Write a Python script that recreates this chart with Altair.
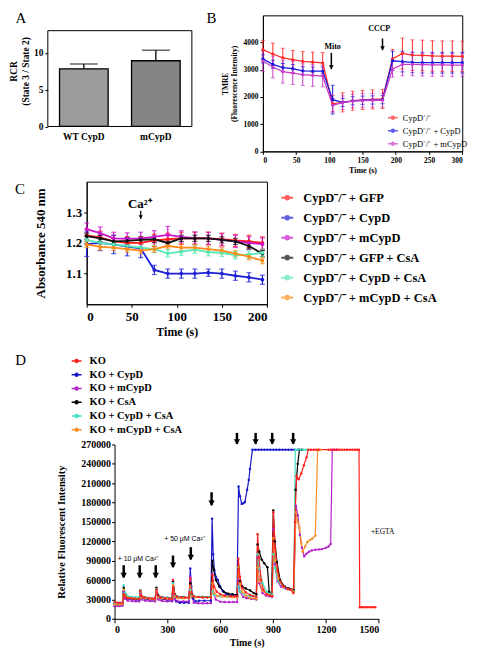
import math
import altair as alt
import pandas as pd

SERIF = "Liberation Serif"
SANS = "Liberation Sans"
SYM = "M-1,0L1,0M-0.3,0A0.3,0.3,0,1,1,0.3,0A0.3,0.3,0,1,1,-0.3,0Z"
SX, SY = 0.958, 0.962   # the reference figure is drawn slightly smaller to fit inside the page margin

# ---------------- Panel A ----------------
a_groups = ["WT CypD", "mCypD"]
a_rcr = [7.83, 8.92]
a_rcr_err = [0.65, 1.43]
a_fills = ["#9c9c9c", "#858585"]
a_axis_top = 13

# ---------------- Panel B ----------------
b_time = [0, 15, 30, 45, 60, 75, 90, 105, 120, 135, 150, 165, 180,
          195, 210, 225, 240, 255, 270, 285, 300]
b_series = ["CypD⁻/⁻", "CypD⁻/⁻ + CypD", "CypD⁻/⁻ + mCypD"]
b_colors = ["#ff2a2a", "#1a1ae0", "#c83cc8"]
b_ko = [3740, 3580, 3440, 3370, 3310, 3280, 3250, 1750, 1800, 1860, 1890, 1910, 1930,
        3400, 3600, 3540, 3530, 3510, 3500, 3500, 3490]
b_ko_err = [340, 400, 350, 340, 360, 370, 380, 300, 350, 350, 350, 350, 350,
            350, 570, 560, 560, 560, 560, 560, 560]
b_cypd = [3400, 3200, 3080, 3040, 2960, 2950, 2950, 1900, 1800, 1860, 1880, 1890, 1900,
          3330, 3300, 3270, 3260, 3260, 3260, 3260, 3260]
b_cypd_err = [150, 150, 150, 150, 150, 150, 150, 530, 150, 150, 150, 150, 150,
              350, 380, 380, 380, 380, 380, 380, 380]
b_mcypd = [3320, 3100, 2930, 2880, 2820, 2790, 2770, 1700, 1790, 1850, 1870, 1880, 1880,
           3030, 3200, 3200, 3190, 3180, 3180, 3170, 3170]
b_mcypd_err = [370, 400, 420, 420, 400, 400, 400, 250, 250, 250, 250, 250, 250,
               300, 420, 420, 420, 420, 420, 420, 420]
b_note_text = ["Mito", "CCCP"]
b_note_time = [105, 175]
b_note_value = [3840, 4490]
b_arrow_time = [103, 180]
b_arrow_top = [3620, 4150]
b_arrow_tip = [3020, 3720]

# ---------------- Panel C ----------------
c_time = [0, 15, 30, 45, 60, 75, 90, 105, 120, 135, 150, 165, 180, 195]
c_series = ["CypD⁻/⁻ + GFP", "CypD⁻/⁻ + CypD", "CypD⁻/⁻ + mCypD",
            "CypD⁻/⁻ + GFP + CsA", "CypD⁻/⁻ + CypD + CsA", "CypD⁻/⁻ + mCypD + CsA"]
c_colors = ["#ff1a1a", "#2020d8", "#cc14cc", "#111111", "#55e8b4", "#ff8c1a"]
c_gfp = [1.225, 1.218, 1.205, 1.200, 1.200, 1.208, 1.212, 1.215, 1.215, 1.215, 1.212, 1.208, 1.205, 1.200]
c_gfp_err = [0.02] * 14
c_cypd = [1.196, 1.200, 1.195, 1.188, 1.182, 1.112, 1.100, 1.100, 1.100, 1.103, 1.100, 1.093, 1.088, 1.080]
c_cypd_err = [0.04, 0.025, 0.03, 0.03, 0.03, 0.015, 0.015, 0.015, 0.015, 0.012, 0.015, 0.015, 0.015, 0.015]
c_mcypd = [1.245, 1.232, 1.215, 1.213, 1.215, 1.220, 1.226, 1.220, 1.216, 1.215, 1.210, 1.205, 1.200, 1.196]
c_mcypd_err = [0.02, 0.02, 0.02, 0.02, 0.02, 0.02, 0.028, 0.02, 0.02, 0.02, 0.02, 0.02, 0.02, 0.02]
c_gfp_csa = [1.222, 1.215, 1.205, 1.207, 1.210, 1.212, 1.200, 1.215, 1.215, 1.215, 1.210, 1.205, 1.190, 1.165]
c_gfp_csa_err = [0.01] * 14
c_cypd_csa = [1.210, 1.200, 1.195, 1.190, 1.185, 1.180, 1.166, 1.172, 1.178, 1.170, 1.168, 1.160, 1.162, 1.168]
c_cypd_csa_err = [0.012] * 14
c_mcypd_csa = [1.195, 1.187, 1.185, 1.180, 1.175, 1.180, 1.190, 1.185, 1.185, 1.180, 1.175, 1.165, 1.155, 1.142]
c_mcypd_csa_err = [0.01] * 14
c_note_text = ["Ca²⁺"]
c_note_time = [59]
c_note_value = [1.328]
c_arrow_time = [60]
c_arrow_top = [1.305]
c_arrow_tip = [1.278]

# ---------------- Panel D ----------------
d_series = ["KO", "KO + CypD", "KO + mCypD", "KO + CsA", "KO + CypD + CsA", "KO + mCypD + CsA"]
d_colors = ["#ff2020", "#1818c8", "#b424c8", "#000000", "#40e0c0", "#f5902a"]
d_ko = [(0, 26000), (15, 25000), (30, 25000), (45, 25000), (52, 38000), (60, 34000), (75, 32000), (95, 31500),
        (115, 31000), (140, 31000), (146, 43000), (155, 35000), (170, 33000), (195, 32000), (215, 31500),
        (230, 31000), (238, 45000), (248, 35000), (265, 33000), (290, 32000), (310, 31500), (327, 31000),
        (332, 60000), (340, 38000), (355, 34000), (380, 33000), (400, 33000), (422, 33000), (430, 62000),
        (438, 40000), (450, 35000), (475, 34000), (500, 33000), (525, 33000), (547, 33000), (556, 67000),
        (565, 50000), (580, 42000), (600, 38000), (625, 36000), (660, 35000), (680, 35000), (696, 35000),
        (703, 93000), (712, 65000), (725, 48000), (745, 41000), (770, 37000), (790, 35000), (805, 34000),
        (812, 131000), (820, 95000), (832, 60000), (845, 45000), (865, 38000), (880, 36000), (895, 35500),
        (902, 165000), (912, 110000), (925, 75000), (940, 58000), (960, 50000), (985, 46000), (1000, 45000),
        (1015, 40000), (1024, 150000), (1033, 221000), (1045, 216000), (1060, 225000), (1075, 238000),
        (1090, 250000), (1100, 262000), (1115, 262000), (1130, 262000), (1145, 262000), (1160, 262000),
        (1215, 262000), (1230, 262000), (1245, 262000), (1260, 262000), (1275, 262000), (1290, 262000),
        (1305, 262000), (1320, 262000), (1335, 262000), (1350, 262000), (1365, 262000), (1378, 262000),
        (1388, 262000), (1392, 18000), (1405, 18000), (1420, 18000), (1435, 18000), (1450, 18000),
        (1465, 18000), (1480, 18000)]
d_cypd = [(0, 20000), (15, 20500), (30, 21000), (45, 21000), (52, 42000), (60, 34000), (75, 31000), (100, 30000),
          (120, 29500), (140, 29000), (146, 42000), (155, 33000), (175, 30000), (200, 29500), (230, 29000),
          (238, 45000), (248, 33000), (270, 30000), (300, 29500), (327, 29000), (332, 58000), (340, 34000),
          (350, 27000), (370, 25000), (395, 25000), (422, 25000), (430, 78000), (436, 50000), (445, 32000),
          (460, 27000), (480, 28000), (510, 28000), (547, 28000), (554, 155000), (560, 100000), (567, 75000),
          (576, 65000), (586, 60000), (600, 50000), (615, 43000), (635, 38000), (660, 36000), (680, 36000),
          (695, 36000), (704, 205000), (712, 190000), (722, 178000), (731, 179000), (740, 181000),
          (753, 200000), (762, 215000), (769, 232000), (783, 262000), (800, 262000), (817, 262000),
          (834, 262000), (851, 262000), (868, 262000), (885, 262000), (902, 262000), (919, 262000),
          (936, 262000), (953, 262000), (970, 262000), (987, 262000), (1004, 262000), (1021, 262000),
          (1040, 262000)]
d_mcypd = [(0, 20000), (15, 20000), (30, 20000), (45, 20500), (52, 42000), (60, 31000), (75, 28000), (100, 27500),
           (120, 27000), (140, 27000), (146, 40000), (155, 30000), (175, 28000), (200, 27500), (230, 27000),
           (238, 43000), (248, 30000), (270, 27500), (300, 27000), (327, 27000), (332, 55000), (342, 30000),
           (360, 27000), (390, 27000), (422, 27000), (430, 65000), (437, 35000), (450, 25000), (475, 24000),
           (500, 24000), (525, 24000), (547, 24500), (555, 70000), (563, 40000), (575, 30000), (600, 26500),
           (625, 26000), (650, 26000), (675, 26000), (696, 26000), (703, 60000), (712, 42000), (730, 34000),
           (750, 32000), (775, 31000), (805, 30000), (812, 95000), (822, 55000), (840, 40000), (860, 36000),
           (880, 35000), (895, 34000), (901, 138000), (910, 85000), (925, 58000), (945, 50000), (970, 47000),
           (1000, 45000), (1018, 42000), (1030, 175000), (1041, 160000), (1052, 130000), (1064, 110000),
           (1077, 97000), (1090, 101000), (1104, 104000), (1120, 106000), (1140, 107000), (1160, 107500),
           (1177, 108000), (1200, 110000), (1215, 112000), (1227, 116000), (1236, 262000), (1250, 262000),
           (1262, 262000)]
d_csa = [(0, 24000), (15, 24000), (30, 24000), (45, 24500), (52, 48000), (60, 38000), (75, 34000), (100, 32000),
         (120, 31500), (140, 31000), (146, 44000), (155, 35000), (175, 33000), (200, 32000), (230, 31000),
         (238, 48000), (248, 36000), (270, 33500), (300, 32500), (327, 32000), (332, 58000), (342, 38000),
         (360, 34000), (390, 33500), (422, 33000), (430, 55000), (438, 38000), (460, 34000), (500, 34000),
         (547, 34000), (555, 90000), (563, 76000), (575, 60000), (595, 50000), (620, 42000), (645, 39000),
         (670, 38000), (696, 37000), (703, 80000), (712, 58000), (725, 50000), (745, 47000), (770, 44000),
         (790, 40000), (805, 38000), (812, 115000), (822, 104000), (835, 92000), (850, 86000), (868, 80000),
         (878, 42000), (892, 38000), (901, 168000), (910, 120000), (922, 88000), (940, 60000), (965, 50000),
         (990, 47000), (1005, 46000), (1018, 44000), (1028, 200000), (1040, 240000), (1050, 262000),
         (1065, 262000)]
d_cypd_csa = [(0, 24000), (15, 24000), (30, 24000), (45, 24500), (52, 52000), (60, 40000), (75, 35000),
              (100, 34000), (120, 33500), (140, 33000), (146, 44000), (155, 35000), (175, 33000), (200, 32000),
              (230, 31000), (238, 46000), (248, 35000), (270, 33000), (300, 32500), (327, 32000), (332, 55000),
              (342, 36000), (360, 33000), (390, 33000), (422, 33000), (430, 45000), (438, 36000), (460, 34000),
              (500, 34000), (547, 34000), (556, 42000), (565, 37000), (600, 35000), (640, 34500), (670, 34000),
              (696, 34000), (703, 50000), (712, 42000), (740, 37000), (770, 35000), (805, 34000), (812, 100000),
              (822, 78000), (840, 55000), (865, 42000), (880, 39000), (895, 38000), (901, 100000), (912, 78000),
              (930, 58000), (960, 48000), (985, 46000), (1005, 45000), (1018, 42000), (1026, 262000),
              (1040, 262000), (1055, 262000), (1070, 262000), (1085, 262000), (1100, 262000)]
d_mcypd_csa = [(0, 22000), (15, 22000), (30, 22000), (45, 22500), (52, 45000), (60, 36000), (75, 33000),
               (100, 32000), (120, 31500), (140, 31000), (146, 42000), (155, 33000), (175, 31500), (200, 31000),
               (230, 30000), (238, 44000), (248, 33000), (270, 31500), (300, 31000), (327, 31000), (332, 52000),
               (342, 34000), (360, 32000), (390, 32000), (422, 32000), (430, 50000), (438, 35000), (460, 33000),
               (500, 33000), (547, 33000), (556, 55000), (565, 40000), (585, 35000), (610, 34500), (640, 34000),
               (670, 33500), (696, 33000), (703, 80000), (712, 55000), (725, 42000), (745, 36000), (770, 32000),
               (805, 31000), (812, 80000), (822, 58000), (840, 44000), (865, 38000), (880, 37000), (895, 36000),
               (901, 125000), (912, 90000), (930, 62000), (960, 49000), (985, 46000), (1005, 45000),
               (1018, 42000), (1030, 165000), (1040, 150000), (1050, 141000), (1060, 118000), (1068, 104000),
               (1082, 112000), (1095, 119000), (1110, 122000), (1122, 124000), (1140, 129000), (1153, 262000),
               (1170, 262000)]
d_note_text = ["+ 10 μM Ca²⁺", "+ 50 μM Ca²⁺", "+EGTA"]
d_note_time = [133, 397, 1522]
d_note_value = [93000, 123500, 134500]
d_note_font = [SANS, SANS, SERIF]
d_arrow_time = [52, 143, 234, 332, 433, 551, 695, 801, 895, 1014]
d_arrow_top = [83000, 83000, 83000, 98000, 111000, 196000, 288000, 288000, 288000, 288000]
d_arrow_tip = [64000, 64000, 64000, 80000, 92000, 176000, 271000, 271000, 271000, 271000]

# ---------------- layout of the reference figure (pixels of the 477x664 picture) ----------------
A_BOX = (37, 5, 188, 121)     # A's axis box is 37..188 x 21..121; top 16 px left blank to line up with B
A_FRAME_TOP_Y = 21
B_BOX = (262, 5, 471, 147)
C_BOX = (77, 179, 266, 307)
D_BOX = (106, 451, 383, 633)


def rx(X, box):
    return (X - box[0]) * SX


def ry(Y, box):
    return (Y - box[1]) * SY


def wh(box):
    return (box[2] - box[0]) * SX, (box[3] - box[1]) * SY


DUMMY = pd.DataFrame({"k": [0]})


def letter(ch, X, Y, box):
    return alt.Chart(DUMMY).mark_text(
        text=ch, font=SERIF, fontSize=15, align="left", baseline="alphabetic", color="black"
    ).encode(x=alt.value(rx(X, box)), y=alt.value(ry(Y, box)))


def anchor(X, Y, box):
    # invisible point that pins the vertical extent of a row
    return alt.Chart(DUMMY).mark_point(size=1, opacity=0).encode(
        x=alt.value(rx(X, box)), y=alt.value(ry(Y, box)))


def spacer(w):
    return alt.Chart(DUMMY).mark_point(size=1, opacity=0).encode(
        x=alt.value(0), y=alt.value(0)
    ).properties(width=w, height=1, view=alt.ViewBackground(stroke="transparent"))


def legend(sym_left, first_center, step, offset, fs, weight, box, ssize, sw):
    return alt.Legend(orient="none", legendX=rx(sym_left, box), legendY=ry(first_center, box) - fs / 2,
                      title=None, labelFont=SERIF, labelFontSize=fs, labelFontWeight=weight,
                      symbolType=SYM, symbolSize=ssize, symbolStrokeWidth=sw,
                      rowPadding=step * SY - fs, labelOffset=offset, padding=0)


def series_frame(times, names, values, errors):
    rows = []
    for name, vals, errs in zip(names, values, errors):
        for t, v, e in zip(times, vals, errs):
            rows.append({"time": t, "value": v, "lo": v - e, "hi": v + e, "series": name})
    return pd.DataFrame(rows)


def arrows(times, tops, tips, xs, ys, axx, axy, width, tri):
    df = pd.DataFrame({"time": times, "top": tops, "tip": tips})
    shaft = alt.Chart(df).mark_rule(color="black", strokeWidth=width).encode(
        x=alt.X("time:Q", scale=xs, axis=axx),
        y=alt.Y("top:Q", scale=ys, axis=axy), y2="tip:Q")
    head = alt.Chart(df).mark_point(shape="triangle-down", filled=True, color="black",
                                    opacity=1, size=tri, yOffset=-2).encode(
        x=alt.X("time:Q", scale=xs, axis=axx),
        y=alt.Y("tip:Q", scale=ys, axis=axy))
    return [shaft, head]


# ================= Panel A =================
A_W, A_H = wh(A_BOX)
a_domain_top = a_axis_top * (A_BOX[3] - A_BOX[1]) / (A_BOX[3] - A_FRAME_TOP_Y)
dfA = pd.DataFrame({"group": a_groups, "rcr": a_rcr,
                    "hi": [v + e for v, e in zip(a_rcr, a_rcr_err)]})
xsA = alt.Scale(domain=a_groups, paddingInner=0.325, paddingOuter=0.1625)
ysA = alt.Scale(domain=[0, a_domain_top], nice=False)
axA_x = alt.Axis(title=None, labelAngle=0, ticks=False, domain=False, labelFontSize=9.5, labelPadding=5)
axA_y = alt.Axis(values=[0, 5, 10], title=["RCR", "(State 3 / State 2)"], titleFontSize=9.5, domain=False,
                 labelFontSize=9.5, tickSize=3, titlePadding=3)
barsA = alt.Chart(dfA).mark_bar(stroke="black", strokeWidth=1.3).encode(
    x=alt.X("group:N", scale=xsA, axis=axA_x, sort=a_groups),
    y=alt.Y("rcr:Q", scale=ysA, axis=axA_y),
    fill=alt.Fill("group:N", scale=alt.Scale(domain=a_groups, range=a_fills), legend=None))
errA = alt.Chart(dfA).mark_rule(color="black", strokeWidth=1.3).encode(
    x=alt.X("group:N", scale=xsA, axis=axA_x, sort=a_groups),
    y=alt.Y("rcr:Q", scale=ysA, axis=axA_y), y2="hi:Q")
capA = alt.Chart(dfA).mark_tick(color="black", orient="horizontal", size=28, thickness=1.3).encode(
    x=alt.X("group:N", scale=xsA, axis=axA_x, sort=a_groups),
    y=alt.Y("hi:Q", scale=ysA, axis=axA_y))
frameA = alt.Chart(DUMMY).mark_rect(fill="transparent", stroke="black", strokeWidth=1).encode(
    x=alt.value(0), x2=alt.value(A_W), y=alt.YDatum(a_axis_top), y2=alt.Y2Datum(0))
chartA = alt.layer(errA, capA, barsA, frameA, letter("A", 3, 13, A_BOX)).properties(
    width=A_W, height=A_H, view=alt.ViewBackground(stroke="transparent"))


# ================= line panels (B, C) =================
def line_panel(df, names, colors, xs, ys, axx, axy, leg, lw, psize, cap, capw):
    col = alt.Color("series:N", scale=alt.Scale(domain=names, range=colors), legend=leg)
    X = alt.X("time:Q", scale=xs, axis=axx)
    err = alt.Chart(df).mark_rule(strokeWidth=capw).encode(
        x=X, y=alt.Y("lo:Q", scale=ys, axis=axy), y2="hi:Q", color=col)
    lo = alt.Chart(df).mark_tick(orient="horizontal", size=cap, thickness=capw).encode(
        x=X, y=alt.Y("lo:Q", scale=ys, axis=axy), color=col)
    hi = alt.Chart(df).mark_tick(orient="horizontal", size=cap, thickness=capw).encode(
        x=X, y=alt.Y("hi:Q", scale=ys, axis=axy), color=col)
    line = alt.Chart(df).mark_line(strokeWidth=lw).encode(
        x=X, y=alt.Y("value:Q", scale=ys, axis=axy), color=col)
    pts = alt.Chart(df).mark_circle(size=psize, opacity=1).encode(
        x=X, y=alt.Y("value:Q", scale=ys, axis=axy), color=col)
    return [err, lo, hi, line, pts]


B_W, B_H = wh(B_BOX)
dfB = series_frame(b_time, b_series, [b_ko, b_cypd, b_mcypd], [b_ko_err, b_cypd_err, b_mcypd_err])
xsB = alt.Scale(domain=[0, 300], nice=False)
ysB = alt.Scale(domain=[0, 5000], nice=False)
axB_x = alt.Axis(values=[0, 50, 100, 150, 200, 250, 300], title="Time (s)", labelFontSize=7.5,
                 titleFontSize=8, tickSize=3, labelPadding=2, titlePadding=3)
axB_y = alt.Axis(values=[0, 1000, 2000, 3000, 4000], format="d", title=["TMRE", "(Fluorescence Intensity)"],
                 labelFontSize=7.5, titleFontSize=7.5, tickSize=3, labelPadding=2, titlePadding=4)
legB = legend(392, 110, 11, 4, 8.5, "normal", B_BOX, 100, 1.5)
dfBn = pd.DataFrame({"time": b_note_time, "value": b_note_value, "label": b_note_text})
noteB = alt.Chart(dfBn).mark_text(font=SERIF, fontSize=8, fontWeight="bold", color="black").encode(
    x=alt.X("time:Q", scale=xsB, axis=axB_x), y=alt.Y("value:Q", scale=ysB, axis=axB_y), text="label:N")
chartB = alt.layer(
    *line_panel(dfB, b_series, b_colors, xsB, ysB, axB_x, axB_y, legB, 1.3, 10, 4, 1),
    *arrows(b_arrow_time, b_arrow_top, b_arrow_tip, xsB, ysB, axB_x, axB_y, 1.5, 22),
    noteB, letter("B", 203, 13, B_BOX),
    anchor(262, 0, B_BOX), anchor(262, 173, B_BOX)
).properties(width=B_W, height=B_H, view=alt.ViewBackground(stroke="black", strokeWidth=1))

C_W, C_H = wh(C_BOX)
dfC = series_frame(c_time, c_series,
                   [c_gfp, c_cypd, c_mcypd, c_gfp_csa, c_cypd_csa, c_mcypd_csa],
                   [c_gfp_err, c_cypd_err, c_mcypd_err, c_gfp_csa_err, c_cypd_csa_err, c_mcypd_csa_err])
xsC = alt.Scale(domain=[0, 200], nice=False)
ysC = alt.Scale(domain=[1.0, 1.4], nice=False)
axC_x = alt.Axis(values=[0, 50, 100, 150, 200], title="Time (s)", labelFontSize=13, titleFontSize=12,
                 tickSize=3, labelPadding=3, titlePadding=3)
axC_y = alt.Axis(values=[1.1, 1.2, 1.3], format=".1f", title="Absorbance 540 nm", labelFontSize=13,
                 titleFontSize=13, tickSize=3, labelPadding=2, titlePadding=18)
legC = legend(280, 195, 19.3, 9, 12.5, "bold", C_BOX, 144, 2)
dfCn = pd.DataFrame({"time": c_note_time, "value": c_note_value, "label": c_note_text})
noteC = alt.Chart(dfCn).mark_text(font=SERIF, fontSize=13, fontWeight="bold", color="black").encode(
    x=alt.X("time:Q", scale=xsC, axis=axC_x), y=alt.Y("value:Q", scale=ysC, axis=axC_y), text="label:N")
chartC = alt.layer(
    *line_panel(dfC, c_series, c_colors, xsC, ysC, axC_x, axC_y, legC, 1.8, 14, 5, 1.2),
    *arrows(c_arrow_time, c_arrow_top, c_arrow_tip, xsC, ysC, axC_x, axC_y, 1.2, 18),
    noteC, letter("C", 2, 192, C_BOX),
    anchor(77, 176, C_BOX), anchor(77, 348.5, C_BOX)
).properties(width=C_W, height=C_H, view=alt.ViewBackground(stroke="black", strokeWidth=1))

# ================= Panel D =================
D_W, D_H = wh(D_BOX)
d_draw_order = [1, 2, 3, 4, 5, 0]
d_all = [d_ko, d_cypd, d_mcypd, d_csa, d_cypd_csa, d_mcypd_csa]
rowsD = []
for i in d_draw_order:
    for t, v in d_all[i]:
        rowsD.append({"time": t, "value": v, "series": d_series[i]})
dfD = pd.DataFrame(rowsD)
xsD = alt.Scale(domain=[0, 1500], nice=False)
ysD = alt.Scale(domain=[0, 270000], nice=False)
axD_x = alt.Axis(values=[0, 300, 600, 900, 1200, 1500], format="d", title="Time (s)", labelFontSize=10,
                 titleFontSize=10, tickSize=4, labelPadding=2, titlePadding=3)
axD_y = alt.Axis(values=list(range(0, 270001, 30000)), format="d", title="Relative Fluorescent Intensity",
                 labelFontSize=10, titleFontSize=10.5, tickSize=3, labelPadding=1, titlePadding=14)
legD = legend(60, 363, 12.8, 7, 10.5, "bold", D_BOX, 100, 1.5)
colD = alt.Color("series:N", scale=alt.Scale(domain=d_series, range=d_colors), legend=legD)
lineD = alt.Chart(dfD).mark_line(strokeWidth=1.2).encode(
    x=alt.X("time:Q", scale=xsD, axis=axD_x), y=alt.Y("value:Q", scale=ysD, axis=axD_y), color=colD)
ptsD = alt.Chart(dfD).mark_circle(size=6, opacity=1).encode(
    x=alt.X("time:Q", scale=xsD, axis=axD_x), y=alt.Y("value:Q", scale=ysD, axis=axD_y), color=colD)
dfDn = pd.DataFrame({"time": d_note_time, "value": d_note_value, "label": d_note_text, "font": d_note_font})
noteD1 = alt.Chart(dfDn[dfDn["font"] == SANS]).mark_text(font=SANS, fontSize=7, color="black").encode(
    x=alt.X("time:Q", scale=xsD, axis=axD_x), y=alt.Y("value:Q", scale=ysD, axis=axD_y), text="label:N")
noteD2 = alt.Chart(dfDn[dfDn["font"] == SERIF]).mark_text(font=SERIF, fontSize=7.5, color="black").encode(
    x=alt.X("time:Q", scale=xsD, axis=axD_x), y=alt.Y("value:Q", scale=ysD, axis=axD_y), text="label:N")
chartD = alt.layer(
    lineD, ptsD,
    *arrows(d_arrow_time, d_arrow_top, d_arrow_tip, xsD, ysD, axD_x, axD_y, 2.5, 40),
    noteD1, noteD2, letter("D", 2, 368, D_BOX),
    anchor(106, 350, D_BOX)
).properties(width=D_W, height=D_H, view=alt.ViewBackground(stroke="transparent"))

# ================= layout =================
# rows: flush horizontal placement (spacer widths give each panel's left edge);
# rows stacked by their full bounds, pinned by invisible anchors.
a_left = round(A_BOX[0] * SX)
b_gap = round(B_BOX[0] * SX) - a_left - math.ceil(A_W)


def row(*charts):
    return alt.hconcat(*charts, spacing=0, bounds="flush").resolve_scale(
        color="independent", fill="independent").resolve_legend(color="independent")


row1 = row(spacer(a_left), chartA, spacer(b_gap), chartB)
row2 = row(spacer(round(C_BOX[0] * SX)), chartC)
row3 = row(spacer(round(D_BOX[0] * SX)), chartD)

chart = alt.vconcat(row1, row2, row3, spacing=0).resolve_scale(
    color="independent", fill="independent"
).resolve_legend(color="independent").properties(padding=0).configure_view(stroke=None).configure_axis(
    labelFont=SERIF, titleFont=SERIF, labelFontWeight="bold", titleFontWeight="bold",
    labelColor="black", titleColor="black", domainColor="black", tickColor="black", grid=False
)

chart.save("out.html", embed_options={"renderer": "svg", "actions": False})
